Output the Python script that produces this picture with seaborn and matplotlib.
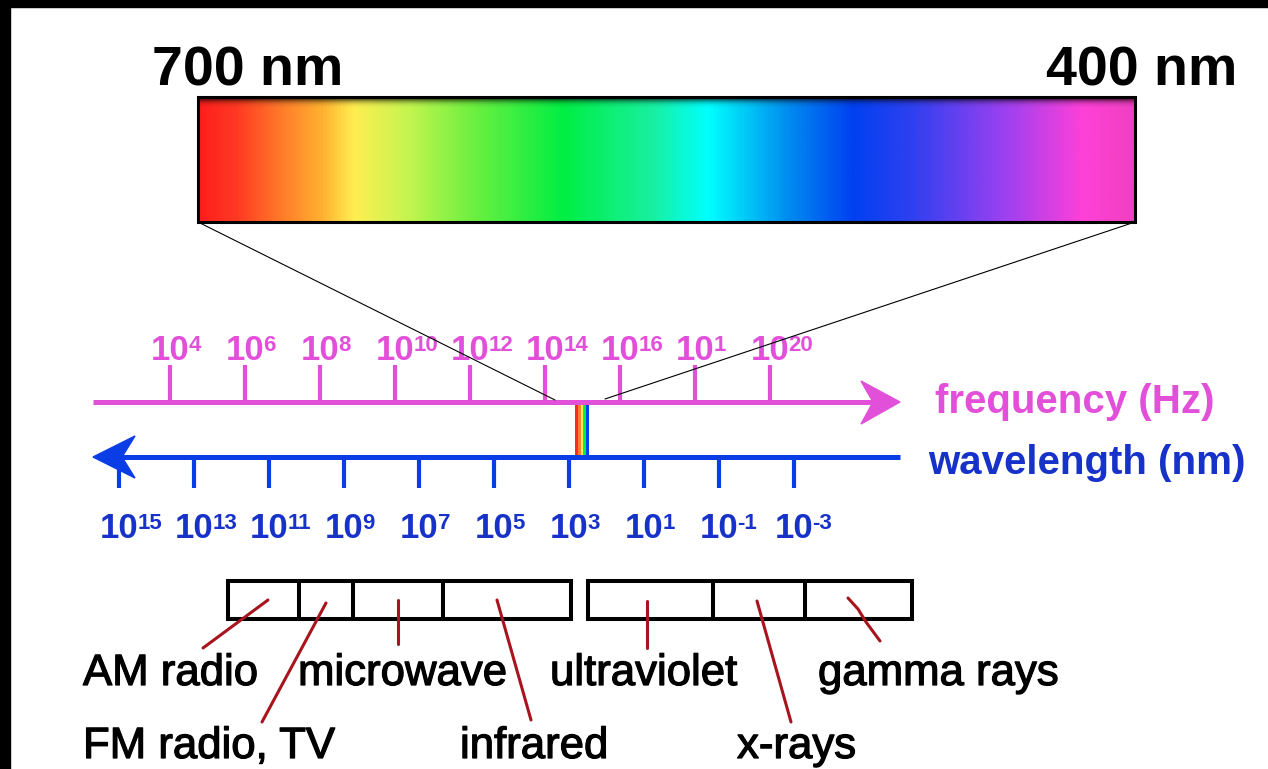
import numpy as np
import matplotlib.pyplot as plt
import seaborn as sns
from matplotlib.colors import LinearSegmentedColormap
from matplotlib.patches import Polygon, Rectangle
import matplotlib.patheffects as pe

sns.set_theme(style="white")
plt.rcParams['font.family'] = ['Liberation Sans', 'DejaVu Sans']

# tick exponents on both scales
freq_exps = [4, 6, 8, 10, 12, 14, 16, 18, 20]
freq_sups = ['4', '6', '8', '10', '12', '14', '16', '1', '20']
wave_exps = [15, 13, 11, 9, 7, 5, 3, 1, -1, -3]
wave_sups = ['15', '13', '11', '9', '7', '5', '3', '1', '-1', '-3']

# visible band (wavelength exponent span of the little strip)
visible_labels = ['700 nm', '400 nm']
visible_exp = [2.85, 2.5]

# box edges, as wavelength exponents
left_edges = [12.1, 10.2, 8.75, 6.35, 2.95]
right_edges = [2.5, -0.85, -3.3, -6.15]

band_names = ['AM radio', 'microwave', 'ultraviolet', 'gamma rays',
              'FM radio, TV', 'infrared', 'x-rays']
band_pos = [(83, 685), (298, 685), (550, 685), (818, 685),
            (83, 758), (460, 758), (737, 758)]
leaders = [
    [(268, 600), (203, 648)],
    [(398, 600), (398, 644)],
    [(647, 601), (647, 648)],
    [(848, 598), (858, 609), (866, 622), (880, 641)],
    [(326, 603), (262, 722)],
    [(497, 600), (531, 720)],
    [(757, 601), (791, 722)],
]

spectrum_stops = [
    (0.00, '#ff1e1e'), (0.04, '#ff3a22'), (0.09, '#ff7f2a'), (0.13, '#ffb030'),
    (0.165, '#ffee50'), (0.22, '#c8f550'), (0.29, '#70f040'), (0.39, '#00ee44'),
    (0.485, '#18f0a0'), (0.545, '#00ffff'), (0.627, '#0090f0'), (0.70, '#0040f0'),
    (0.765, '#3040f0'), (0.866, '#a040f0'), (0.947, '#ff40d8'), (1.00, '#f040c0'),
]

PINK = '#e24fd9'
BLUE = '#0b3de6'
BLUE_TXT = '#1632c8'
RED = '#a8141e'
NUM_FONT = ['Liberation Sans Narrow', 'Liberation Sans']
heavy = [pe.withStroke(linewidth=0.9, foreground='black')]


def fx(e):
    return 170 + (e - 4) * 37.5


def wx(e):
    return 119 + (15 - e) * 37.5


fig = plt.figure(figsize=(12.68, 7.69), dpi=100)
ax = fig.add_axes([0, 0, 1, 1])
ax.set_facecolor('white')

# black frame strips
ax.add_patch(Rectangle((0, 0), 1268, 7, color='black', zorder=10))
ax.add_patch(Rectangle((0, 0), 10, 769, color='black', zorder=10))

# spectrum bar
cmap = LinearSegmentedColormap.from_list('vis', spectrum_stops)
cols = cmap(np.linspace(0, 1, 800))[:, :3]
img = np.tile(cols[None], (62, 1, 1))
shade = np.ones(62)
shade[:5] = [0.25, 0.5, 0.75, 0.9, 0.97]
ax.imshow(img * shade[:, None, None], extent=(198, 1135, 222, 97),
          aspect='auto', interpolation='bilinear', zorder=2)
ax.add_patch(Rectangle((198, 97), 937, 125, fill=False, ec='black', lw=2.2, zorder=3))
ax.text(152, 85, visible_labels[0], ha='left', va='baseline', fontsize=40,
        fontweight='bold', color='black')
ax.text(1237, 85, visible_labels[1], ha='right', va='baseline', fontsize=40,
        fontweight='bold', color='black')

# projection lines
ax.plot([198, 555], [222, 400], color='black', lw=0.8, zorder=6)
ax.plot([1135, 605], [222, 399], color='black', lw=0.8, zorder=6)

# little visible strip
strip = cmap([0.02, 0.09, 0.17, 0.39, 0.70])[None, :, :3]
ax.imshow(strip, extent=(wx(visible_exp[0]), wx(visible_exp[1]), 455, 405),
          aspect='auto', interpolation='nearest', zorder=3)

# frequency axis
ax.plot([93, 880], [402, 402], color=PINK, lw=3.6, solid_capstyle='butt', zorder=4)
ax.add_patch(Polygon([(900, 402), (861, 381), (873, 402), (861, 424)],
                     closed=True, color=PINK, zorder=4))
ax.vlines([fx(e) for e in freq_exps], 365, 402, color=PINK, lw=3, zorder=4)
for e, s in zip(freq_exps, freq_sups):
    t = ax.text(fx(e), 360, '10', ha='center', va='baseline', fontsize=25,
                fontweight='bold', family=NUM_FONT, color=PINK, zorder=5)
    ax.annotate(s, xy=(1, 1), xycoords=t, xytext=(-0.5, -1),
                textcoords='offset points', ha='left', va='top', fontsize=16,
                fontweight='bold', family=NUM_FONT, color=PINK, zorder=5)
ax.text(935, 413, 'frequency (Hz)', ha='left', va='baseline', fontsize=29,
        fontweight='bold', color=PINK)

# wavelength axis
ax.plot([118, 900], [457, 457], color=BLUE, lw=3.6, solid_capstyle='butt', zorder=4)
ax.add_patch(Polygon([(93, 457), (135, 436), (122, 457), (135, 478)],
                     closed=True, color=BLUE, zorder=4))
ax.vlines([wx(e) for e in wave_exps], 457, 488, color=BLUE, lw=3, zorder=4)
for e, s in zip(wave_exps, wave_sups):
    t = ax.text(wx(e), 538, '10', ha='center', va='baseline', fontsize=25,
                fontweight='bold', family=NUM_FONT, color=BLUE_TXT, zorder=5)
    ax.annotate(s, xy=(1, 1), xycoords=t, xytext=(-0.5, -1),
                textcoords='offset points', ha='left', va='top', fontsize=16,
                fontweight='bold', family=NUM_FONT, color=BLUE_TXT, zorder=5)
ax.text(928, 474, 'wavelength (nm)', ha='left', va='baseline', fontsize=29,
        fontweight='bold', color=BLUE_TXT)

# band boxes
for edges in (left_edges, right_edges):
    xs = [wx(e) for e in edges]
    ax.add_patch(Rectangle((xs[0], 581), xs[-1] - xs[0], 38, fill=False,
                           ec='black', lw=2.9, joinstyle='miter', zorder=4))
    ax.vlines(xs[1:-1], 581, 619, color='black', lw=2.9, zorder=4)

for name, (x, y), pts in zip(band_names, band_pos, leaders):
    ax.text(x, y, name, ha='left', va='baseline', fontsize=31.5, color='black',
            path_effects=heavy)
    px, py = zip(*pts)
    ax.plot(px, py, color=RED, lw=2.2, solid_capstyle='round', zorder=5)

ax.set_xlim(0, 1268)
ax.set_ylim(769, 0)
ax.axis('off')
fig.savefig('out.png', dpi=100, facecolor='white')
